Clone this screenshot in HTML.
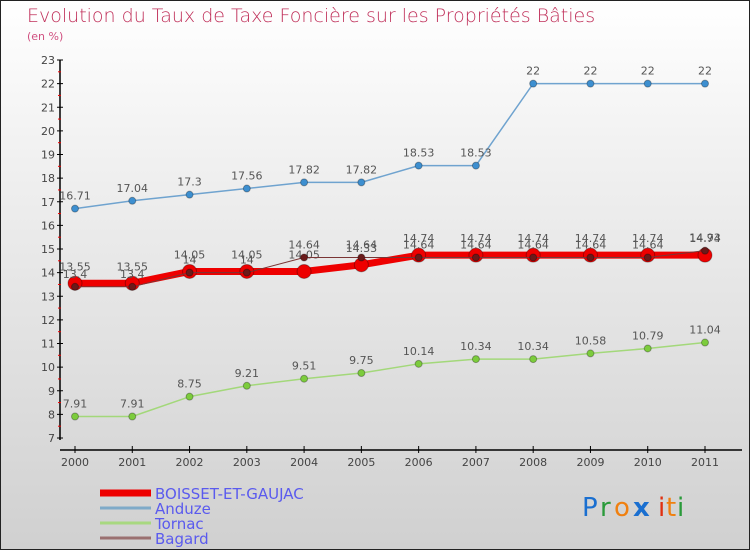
<!DOCTYPE html>
<html><head><meta charset="utf-8"><style>
html,body{margin:0;padding:0}
body{width:750px;height:550px;overflow:hidden;background:linear-gradient(#ffffff,#f0f0f0 30%,#d0d0d0);font-family:"DejaVu Sans","Liberation Sans",sans-serif}
svg{display:block}
</style></head><body>
<svg id="chart" width="750" height="550" xmlns="http://www.w3.org/2000/svg">
<rect x="0.5" y="0.5" width="749" height="549" fill="none" stroke="#222" stroke-width="1"/>
<text x="27" y="22" font-size="19" fill="#c0305a" font-family="'DejaVu Sans',sans-serif" font-weight="200">Evolution du Taux de Taxe Foncière sur les Propriétés Bâties</text>
<text x="27" y="40" font-size="11" fill="#d05080">(en %)</text>
<g id="axes"></g><g id="series"></g><g id="legend"></g>
<g font-size="26" font-family="'DejaVu Sans',sans-serif">
<text x="582" y="516" fill="#1a6fd0">P</text><text x="600" y="516" fill="#2a9a3a">r</text><text x="614" y="516" fill="#f08010">o</text><text x="633" y="516" fill="#1a6fd0" font-weight="bold">x</text><text x="658" y="516" fill="#e03010">i</text><text x="666" y="516" fill="#f08010">t</text><text x="677" y="516" fill="#2a9a3a">i</text>
</g>
</svg>
<script>
const years=["2000","2001","2002","2003","2004","2005","2006","2007","2008","2009","2010","2011"];
const yTicks=[7,8,9,10,11,12,13,14,15,16,17,18,19,20,21,22,23];
const boisset=[13.55,13.55,14.05,14.05,14.05,14.33,14.74,14.74,14.74,14.74,14.74,14.74];
const anduze=[16.71,17.04,17.3,17.56,17.82,17.82,18.53,18.53,22,22,22,22];
const tornac=[7.91,7.91,8.75,9.21,9.51,9.75,10.14,10.34,10.34,10.58,10.79,11.04];
const bagard=[13.4,13.4,14,14,14.64,14.64,14.64,14.64,14.64,14.64,14.64,14.93];
const NS="http://www.w3.org/2000/svg";
function X(i){return 75+i*(705-75)/(years.length-1);}
function Y(v){return 438-(v-7)*(438-60)/16;}
function mk(tag,attrs,parent){const e=document.createElementNS(NS,tag);for(const k in attrs)e.setAttribute(k,attrs[k]);parent.appendChild(e);return e;}
const axes=document.getElementById('axes');
const ya=mk('line',{x1:60,y1:Y(23),x2:60,y2:Y(7)+2,stroke:'#000','stroke-width':1.5},axes);


yTicks.forEach(v=>{
 const t=mk('line',{x1:57,x2:63,y1:Y(v),y2:Y(v),stroke:'#000'},axes);
 
 
 if(v<23){const h=mk('line',{x1:58,x2:61,y1:Y(v+0.5),y2:Y(v+0.5),stroke:'#e00'},axes);
 
 }
 const l=mk('text',{x:55,y:Y(v)+4,'font-size':11,fill:'#444','text-anchor':'end'},axes);
 l.textContent=v;
 
 
});
const xa=mk('line',{x1:60,y1:450,x2:742,y2:450,stroke:'#000','stroke-width':1.5},axes);


years.forEach((yr,i)=>{
 const t=mk('line',{x1:X(i),x2:X(i),y1:446,y2:453,stroke:'#000'},axes);
 
 
 const l=mk('text',{x:X(i),y:466,'font-size':11,fill:'#444','text-anchor':'middle'},axes);
 l.textContent=yr;
 
 
});
const sg=document.getElementById('series');
function series(name,vals,color,w,r,fill,labelDy){
 const g=mk('g',{},sg);
 
 
 const p=mk('polyline',{points:vals.map((v,i)=>X(i)+','+Y(v)).join(' '),fill:'none',stroke:color,'stroke-width':w,'stroke-linejoin':'round'},g);
 
 
 vals.forEach((v,i)=>{
  const c=mk('circle',{cx:X(i),cy:Y(v),r:r,fill:fill,stroke:'rgba(0,0,0,0.3)','stroke-width':1},g);
  
  
  const t=mk('text',{x:X(i),y:Y(v)+labelDy,'font-size':11,fill:'#555','text-anchor':'middle'},g);
  t.textContent=v;
  
  
 });
}
series('anduze',anduze,'#6fa3cf',1.5,3.5,'#3d8fd0',-9);
series('tornac',tornac,'#a3d87a',1.5,3.5,'#7ccc3c',-9);
series('boisset',boisset,'#ee0000',7,7,'#ee0000',-13);
series('bagard',bagard,'#7a3535',1,3.5,'#6a1a1a',-9);
const lg=document.getElementById('legend');
const items=[['BOISSET-ET-GAUJAC','#ee0000',7],['Anduze','#7faac8',3],['Tornac','#a8d880',3],['Bagard','#9a7070',3]];
items.forEach((it,k)=>{
 const y=493+k*15;
 const g=mk('g',{},lg);
 
 
 mk('line',{x1:100,x2:151,y1:y,y2:y,stroke:it[1],'stroke-width':it[2]},g);
 const t=mk('text',{x:155,y:y+6,'font-size':15,fill:'#5a5aee'},g);
 t.textContent=it[0];
});
</script>
</body></html>
